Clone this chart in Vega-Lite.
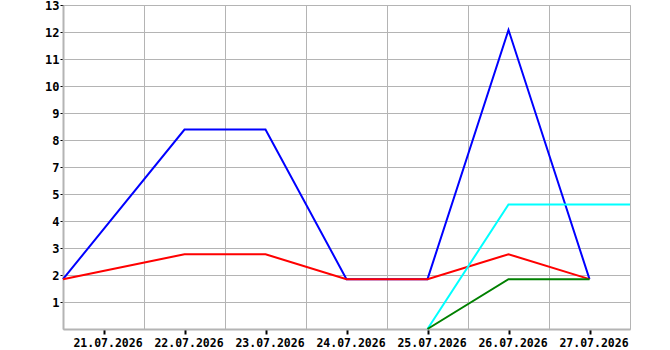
{
  "$schema": "https://vega.github.io/schema/vega-lite/v6.json",
  "width": 567,
  "height": 324,
  "autosize": {"type": "none"},
  "padding": {"left": 63, "top": 5, "right": 40, "bottom": 21},
  "background": "white",
  "config": {
    "view": {"stroke": "#b4b4b4", "strokeWidth": 1},
    "axis": {"labelFont": "DejaVu Sans Mono", "labelFontWeight": "bold", "labelColor": "#000000", "labelFontSize": 11.5}
  },
  "data": {
    "values": [
      {"t": "2026-07-20T12:00:00", "v": 2, "s": "blue"},
      {"t": "2026-07-22T00:00:00", "v": 8, "s": "blue"},
      {"t": "2026-07-23T00:00:00", "v": 8, "s": "blue"},
      {"t": "2026-07-24T00:00:00", "v": 2, "s": "blue"},
      {"t": "2026-07-25T00:00:00", "v": 2, "s": "blue"},
      {"t": "2026-07-26T00:00:00", "v": 12, "s": "blue"},
      {"t": "2026-07-27T00:00:00", "v": 2, "s": "blue"},
      {"t": "2026-07-20T12:00:00", "v": 2, "s": "red"},
      {"t": "2026-07-22T00:00:00", "v": 3, "s": "red"},
      {"t": "2026-07-23T00:00:00", "v": 3, "s": "red"},
      {"t": "2026-07-24T00:00:00", "v": 2, "s": "red"},
      {"t": "2026-07-25T00:00:00", "v": 2, "s": "red"},
      {"t": "2026-07-26T00:00:00", "v": 3, "s": "red"},
      {"t": "2026-07-27T00:00:00", "v": 2, "s": "red"},
      {"t": "2026-07-25T00:00:00", "v": 0, "s": "cyan"},
      {"t": "2026-07-26T00:00:00", "v": 5, "s": "cyan"},
      {"t": "2026-07-27T12:00:00", "v": 5, "s": "cyan"},
      {"t": "2026-07-25T00:00:00", "v": 0, "s": "green"},
      {"t": "2026-07-26T00:00:00", "v": 2, "s": "green"},
      {"t": "2026-07-27T00:00:00", "v": 2, "s": "green"}
    ]
  },
  "layer": [
    {
      "mark": {"type": "point", "opacity": 0},
      "encoding": {
        "x": {
          "field": "t", "type": "temporal",
          "scale": {"domain": [{"year": 2026, "month": 7, "date": 20, "hours": 12}, {"year": 2026, "month": 7, "date": 27, "hours": 12}]},
          "axis": {
            "orient": "bottom", "title": null, "labels": false, "ticks": false, "domain": false,
            "grid": true, "gridColor": "#b4b4b4", "gridWidth": 1, "gridOpacity": 1,
            "values": [
              {"year": 2026, "month": 7, "date": 21, "hours": 12},
              {"year": 2026, "month": 7, "date": 22, "hours": 12},
              {"year": 2026, "month": 7, "date": 23, "hours": 12},
              {"year": 2026, "month": 7, "date": 24, "hours": 12},
              {"year": 2026, "month": 7, "date": 25, "hours": 12},
              {"year": 2026, "month": 7, "date": 26, "hours": 12}
            ]
          }
        },
        "y": {
          "field": "v", "type": "quantitative",
          "scale": {"domain": [0, 13], "nice": false, "zero": true},
          "axis": {
            "title": null,
            "values": [1.0833333, 2.1666667, 3.25, 4.3333333, 5.4166667, 6.5, 7.5833333, 8.6666667, 9.75, 10.8333333, 11.9166667, 13],
            "labelExpr": "round(datum.value)",
            "labelFontSize": 12,
            "labelPadding": 1,
            "tickSize": 3, "tickColor": "#000000", "tickWidth": 1,
            "domainColor": "#b4b4b4", "domainWidth": 2,
            "grid": true, "gridColor": "#b4b4b4", "gridWidth": 1, "gridOpacity": 1
          }
        }
      }
    },
    {
      "mark": {"type": "line", "strokeWidth": 2, "interpolate": "linear"},
      "encoding": {
        "x": {
          "field": "t", "type": "temporal",
          "axis": {
            "orient": "bottom", "title": null, "grid": false,
            "format": "%d.%m.%Y", "labelAngle": 0, "labelAlign": "center", "labelBaseline": "top",
            "labelPadding": 3, "labelOffset": 4, "labelOverlap": false, "labelFlush": false,
            "tickSize": 5, "tickWidth": 2, "tickColor": "#000000",
            "domainColor": "#b4b4b4", "domainWidth": 2,
            "values": [
              {"year": 2026, "month": 7, "date": 21},
              {"year": 2026, "month": 7, "date": 22},
              {"year": 2026, "month": 7, "date": 23},
              {"year": 2026, "month": 7, "date": 24},
              {"year": 2026, "month": 7, "date": 25},
              {"year": 2026, "month": 7, "date": 26},
              {"year": 2026, "month": 7, "date": 27}
            ]
          }
        },
        "y": {
          "field": "v", "type": "quantitative",
          "axis": {
            "title": null,
            "values": [1.0833333, 2.1666667, 3.25, 4.3333333, 5.4166667, 6.5, 7.5833333, 8.6666667, 9.75, 10.8333333, 11.9166667, 13],
            "labelExpr": "round(datum.value)",
            "labelFontSize": 12,
            "labelPadding": 1,
            "tickSize": 3, "tickColor": "#000000", "tickWidth": 1,
            "domainColor": "#b4b4b4", "domainWidth": 2,
            "grid": true, "gridColor": "#b4b4b4", "gridWidth": 1, "gridOpacity": 1
          }
        },
        "color": {
          "field": "s", "type": "nominal", "legend": null,
          "scale": {"domain": ["blue", "red", "cyan", "green"], "range": ["#0000ff", "#ff0000", "#00ffff", "#008000"]}
        },
        "order": {"field": "t", "type": "temporal"}
      }
    }
  ],
  "resolve": {"axis": {"x": "independent"}}
}
